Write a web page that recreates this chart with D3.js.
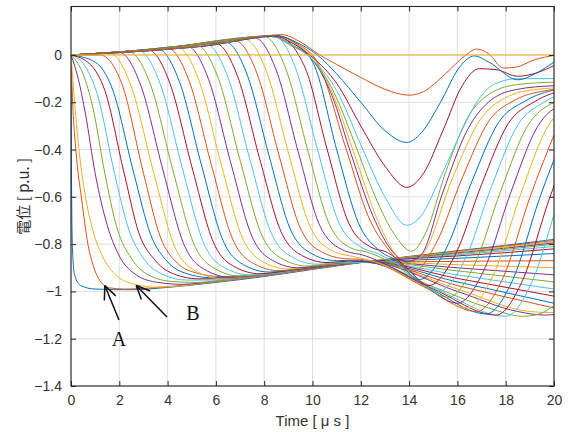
<!DOCTYPE html>
<html><head><meta charset="utf-8">
<script src="https://cdn.jsdelivr.net/npm/d3@7"></script>
<style>body{margin:0;background:#fff} svg{display:block}</style>
</head><body>
<svg id="c" width="572" height="432"></svg>
<script>
const xTicks = [0,2,4,6,8,10,12,14,16,18,20];
const yTicks = [-1.4,-1.2,-1,-0.8,-0.6,-0.4,-0.2,0];

const n00 = [[0,0],[0.02,-0.5],[0.06,-0.82],[0.15,-0.93],[0.4,-0.975],[1,-0.99],[2.5,-0.993],[4,-0.983],[6,-0.962],[8,-0.937],[10,-0.907],[12.3,-0.874],[14,-0.852],[16,-0.828],[18,-0.805],[20,-0.78]];
const n01 = [[0,0],[0.06,-0.18],[0.2,-0.4],[0.44,-0.61],[0.7,-0.8],[0.95,-0.9],[1.2,-0.955],[1.6,-0.985],[2.2,-0.99],[4,-0.98],[6,-0.96],[8,-0.935],[10,-0.905],[12.3,-0.873],[14,-0.853],[16,-0.83],[18,-0.808],[20,-0.785]];
const n02 = [[0,0],[0.15,-0.2],[0.35,-0.42],[0.6,-0.6],[0.9,-0.74],[1.3,-0.85],[1.8,-0.925],[2.7,-0.972],[3.5,-0.982],[4.5,-0.977],[6,-0.958],[8,-0.933],[10,-0.903],[12.3,-0.873],[14,-0.855],[16,-0.833],[18,-0.812],[20,-0.79]];
const n03 = [[0,0],[0.3,-0.1],[0.6,-0.25],[1.0,-0.5],[1.5,-0.72],[2.0,-0.85],[2.7,-0.93],[3.6,-0.962],[4.6,-0.97],[6,-0.956],[8,-0.932],[10,-0.902],[12.3,-0.874],[14,-0.857],[16,-0.837],[18,-0.817],[20,-0.795]];
const n04 = [[0,0],[0.5,-0.08],[0.9,-0.22],[1.4,-0.5],[1.9,-0.73],[2.5,-0.86],[3.2,-0.93],[4.2,-0.958],[5.2,-0.962],[6.5,-0.95],[8,-0.931],[10,-0.901],[12.3,-0.874],[14,-0.858],[16,-0.84],[18,-0.822],[20,-0.8]];
const n05 = [[0,0],[0.6,-0.05],[1.1,-0.17],[1.8,-0.5],[2.4,-0.74],[3.0,-0.86],[3.8,-0.928],[4.8,-0.952],[6,-0.952],[8,-0.93],[10,-0.9],[12.3,-0.874],[14,-0.86],[16,-0.845],[18,-0.828],[20,-0.81]];
const n06 = [[0,0],[0.8,-0.04],[1.4,-0.15],[2.2,-0.5],[2.8,-0.75],[3.5,-0.87],[4.3,-0.928],[5.3,-0.947],[6.5,-0.945],[8,-0.929],[10,-0.9],[12.3,-0.874],[14,-0.862],[16,-0.85],[18,-0.836],[20,-0.82]];
const n07 = [[0,0],[1.0,-0.03],[1.7,-0.14],[2.6,-0.5],[3.3,-0.76],[4.0,-0.875],[4.8,-0.925],[5.8,-0.942],[7,-0.938],[8.5,-0.922],[10,-0.899],[12.3,-0.874],[14,-0.868],[16,-0.86],[18,-0.85],[20,-0.84]];
const n08 = [[0,0],[1.2,0.0],[2.1,-0.12],[3.0,-0.5],[3.7,-0.77],[4.4,-0.88],[5.2,-0.922],[6.2,-0.937],[7.5,-0.932],[9,-0.913],[10.5,-0.893],[12.3,-0.874],[14.5,-0.874],[17,-0.872],[20,-0.87]];
const n09 = [[0,0],[0.8,0.004],[1.6,0.008],[2.5,-0.135],[3.4,-0.488],[4.3,-0.812],[5.2,-0.916],[6.2,-0.945],[8,-0.929],[10,-0.899],[12.3,-0.874],[16,-0.887],[20,-0.9]];
const n10 = [[0,0],[1,0.005],[2,0.011],[2.9,-0.132],[3.8,-0.484],[4.7,-0.807],[5.6,-0.911],[6.6,-0.94],[8,-0.928],[10,-0.898],[12.3,-0.874],[16,-0.9],[20,-0.93]];
const n11 = [[0,0],[1.2,0.006],[2.4,0.014],[3.3,-0.128],[4.2,-0.48],[5.1,-0.802],[6,-0.906],[7,-0.935],[8,-0.927],[10,-0.898],[12.3,-0.874],[16,-0.913],[20,-0.96]];
const n12 = [[0,0],[1.4,0.008],[2.8,0.018],[3.7,-0.124],[4.6,-0.475],[5.5,-0.797],[6.4,-0.902],[7.4,-0.93],[8.5,-0.922],[10,-0.897],[12.3,-0.874],[16,-0.93],[20,-0.99]];
const n13 = [[0,0],[1.6,0.009],[3.2,0.021],[4.1,-0.121],[5,-0.471],[5.9,-0.793],[6.8,-0.897],[7.8,-0.925],[9,-0.912],[10.5,-0.892],[12.3,-0.874],[16,-0.945],[20,-1.02]];
const n14 = [[0,0],[1.8,0.011],[3.6,0.025],[4.5,-0.116],[5.4,-0.465],[6.3,-0.786],[7.2,-0.89],[8.2,-0.918],[9.5,-0.903],[11,-0.885],[12.3,-0.875],[16,-0.96],[20,-1.05]];
const n15 = [[0,0],[2,0.012],[4,0.029],[4.9,-0.112],[5.8,-0.46],[6.7,-0.78],[7.6,-0.884],[8.6,-0.912],[10,-0.895],[11.3,-0.882],[12.3,-0.876],[16,-0.975],[20,-1.07]];
const n16 = [[0,0],[2.2,0.014],[4.4,0.033],[5.3,-0.108],[6.2,-0.455],[7.1,-0.774],[8,-0.877],[9,-0.905],[10.3,-0.89],[11.5,-0.88],[12.3,-0.877],[16,-0.99],[19,-1.085],[20,-1.09]];
const n17 = [[0,0],[2.4,0.015],[4.8,0.037],[5.7,-0.104],[6.6,-0.45],[7.5,-0.769],[8.4,-0.872],[9.4,-0.9],[10.6,-0.885],[12.3,-0.877],[16,-1.0],[18.5,-1.085],[19.6,-1.1],[20,-1.098]];
const n18 = [[0,0],[2.6,0.017],[5.2,0.041],[6.1,-0.099],[7,-0.445],[7.9,-0.762],[8.8,-0.865],[9.8,-0.893],[11,-0.88],[12.3,-0.877],[15,-0.98],[17.3,-1.07],[18.7,-1.105],[19.4,-1.095],[20,-1.06]];
const n19 = [[0,0],[2.8,0.019],[5.6,0.045],[6.5,-0.095],[7.4,-0.439],[8.3,-0.755],[9.2,-0.857],[10.2,-0.885],[11.2,-0.877],[12.3,-0.878],[15,-0.985],[18,-1.105],[19.1,-0.957],[20.2,-0.613],[21.3,-0.317]];
const n20 = [[0,0],[3,0.02],[6,0.048],[6.9,-0.091],[7.8,-0.434],[8.7,-0.748],[9.6,-0.85],[10.6,-0.878],[11.5,-0.872],[12.3,-0.876],[15,-0.99],[17.6,-1.1],[18.7,-0.953],[19.8,-0.61],[20.9,-0.316]];
const n21 = [[0,0],[3.2,0.022],[6.4,0.054],[7.3,-0.085],[8.2,-0.426],[9.1,-0.741],[10,-0.842],[11,-0.87],[11.8,-0.868],[12.4,-0.875],[14.8,-0.985],[17.2,-1.095],[18.3,-0.949],[19.4,-0.607],[20.5,-0.315]];
const n22 = [[0,0],[3.4,0.024],[6.8,0.06],[7.7,-0.078],[8.6,-0.419],[9.5,-0.733],[10.4,-0.834],[11.4,-0.862],[12,-0.864],[12.5,-0.874],[14.6,-0.98],[16.8,-1.085],[17.9,-0.94],[19,-0.603],[20.1,-0.313]];
const n23 = [[0,0],[3.6,0.026],[7.2,0.067],[8.1,-0.071],[9,-0.412],[9.9,-0.726],[10.8,-0.827],[11.8,-0.855],[12.5,-0.872],[14.5,-0.97],[16.4,-1.07],[17.5,-0.928],[18.6,-0.595],[19.7,-0.31],[20.8,-0.205]];
const n24 = [[0,0],[3.8,0.028],[7.6,0.073],[8.5,-0.065],[9.4,-0.407],[10.3,-0.721],[11.2,-0.822],[12.2,-0.85],[12.7,-0.87],[14.4,-0.96],[16,-1.05],[17.1,-0.91],[18.2,-0.585],[19.3,-0.306],[20.4,-0.204]];
const n25 = [[0,0],[4,0.03],[8,0.078],[8.9,-0.06],[9.8,-0.402],[10.7,-0.716],[11.6,-0.817],[12.3,-0.835],[12.8,-0.855],[14.2,-0.94],[15.6,-1.025],[16.7,-0.889],[17.8,-0.573],[18.9,-0.301],[20,-0.201]];
const n26 = [[0,0],[4.2,0.031],[8.4,0.082],[9.3,-0.056],[10.2,-0.397],[11.1,-0.711],[12,-0.812],[12.7,-0.84],[13.9,-0.91],[15.2,-1.0],[16.3,-0.868],[17.4,-0.56],[18.5,-0.296],[19.6,-0.199],[20.9,-0.146]];
const n27 = [[0,0],[4.25,0.031],[8.5,0.082],[9.7,-0.056],[10.6,-0.397],[11.5,-0.711],[12.4,-0.812],[13.1,-0.835],[13.9,-0.9],[14.8,-0.975],[15.9,-0.847],[17,-0.548],[18.1,-0.291],[19.2,-0.197],[20.5,-0.146]];
const n28 = [[0,0],[4.25,0.03],[8.5,0.08],[9.4,0.04],[10.1,-0.05],[11,-0.4],[11.9,-0.71],[12.8,-0.83],[13.5,-0.87],[14.4,-0.95],[15.5,-0.826],[16.6,-0.535],[17.7,-0.286],[18.8,-0.195],[20.1,-0.145]];
const n29 = [[0,0],[4.25,0.03],[8.5,0.08],[9.4,0.045],[10.2,-0.03],[11.4,-0.4],[12.3,-0.68],[13.2,-0.83],[14.2,-0.915],[15.1,-0.8],[16.2,-0.52],[17.3,-0.28],[18.4,-0.19],[19.7,-0.15],[20.5,-0.14]];
const n30 = [[0,0],[4.2,0.03],[8.4,0.08],[9.3,0.045],[10.1,-0.02],[10.9,-0.18],[11.8,-0.44],[12.7,-0.7],[13.5,-0.85],[14,-0.885],[14.6,-0.84],[15.8,-0.52],[16.9,-0.28],[18,-0.18],[19.3,-0.145],[20.5,-0.138]];
const n31 = [[0,0],[4.15,0.03],[8.3,0.078],[9.2,0.04],[10,-0.02],[10.8,-0.17],[11.6,-0.42],[12.5,-0.68],[13.3,-0.83],[13.9,-0.875],[14.5,-0.845],[15.4,-0.58],[16.4,-0.32],[17.4,-0.19],[18.5,-0.145],[20,-0.13]];
const n32 = [[0,0],[4.15,0.03],[8.3,0.078],[9.1,0.04],[9.9,-0.01],[10.8,-0.14],[11.7,-0.36],[12.6,-0.6],[13.4,-0.76],[14.1,-0.83],[14.7,-0.75],[15.5,-0.5],[16.4,-0.27],[17.4,-0.16],[18.5,-0.125],[20,-0.115]];
const n33 = [[0,0],[2,0.01],[4,0.024],[6,0.045],[7.2,0.066],[8.3,0.078],[9.1,0.045],[9.9,-0.01],[11,-0.15],[12,-0.38],[13,-0.6],[13.9,-0.72],[14.5,-0.68],[15.2,-0.54],[16,-0.36],[16.8,-0.2],[17.5,-0.125],[18.5,-0.1],[20,-0.1]];
const n34 = [[0,0],[2,0.01],[4,0.024],[6,0.044],[7.1,0.064],[8.4,0.08],[9.2,0.048],[10,-0.01],[11,-0.12],[12,-0.3],[13,-0.47],[13.9,-0.56],[14.6,-0.5],[15.4,-0.32],[16.2,-0.13],[16.9,-0.058],[17.6,-0.062],[18.5,-0.09],[19.3,-0.075],[20,-0.045]];
const n35 = [[0,0],[2,0.01],[4,0.024],[6,0.044],[7,0.062],[8.5,0.082],[9.4,0.05],[10.2,0],[11,-0.08],[12,-0.2],[13,-0.32],[13.9,-0.37],[14.5,-0.33],[15.3,-0.2],[16.1,-0.05],[16.7,-0.004],[17.3,-0.03],[18.5,-0.105],[19.3,-0.075],[20,-0.03]];
const n36 = [[0,0],[2,0.01],[4,0.025],[6,0.046],[7,0.065],[8,0.08],[8.7,0.086],[9.5,0.055],[10.3,0],[11,-0.04],[12,-0.095],[13,-0.145],[14,-0.17],[14.6,-0.155],[15.5,-0.08],[16.3,-0.005],[16.8,0.025],[17.3,0.005],[17.9,-0.055],[18.4,-0.052],[19.2,-0.02],[20,-0.002]];
const n37 = [[0,0],[20,0]];

const nodes = [n00,n01,n02,n03,n04,n05,n06,n07,n08,n09,n10,n11,n12,n13,n14,n15,n16,n17,n18,n19,
  n20,n21,n22,n23,n24,n25,n26,n27,n28,n29,n30,n31,n32,n33,n34,n35,n36,n37];
const palette = ['#0072BD','#D95319','#EDB120','#7E2F8E','#77AC30','#4DBEEE','#A2142F'];

const L=71, R=554, T=6.5, B=386;
const svg = d3.select('#c');
const x = d3.scaleLinear().domain([0,20]).range([L,R]);
const y = d3.scaleLinear().domain([-1.4,0.205]).range([B,T]);
const ink = '#262626';

// grid
const g = svg.append('g');
g.selectAll('.gx').data(xTicks).enter().append('line')
  .attr('x1',d=>x(d)).attr('x2',d=>x(d)).attr('y1',T).attr('y2',B)
  .attr('stroke','#dfdfdf').attr('stroke-width',1);
g.selectAll('.gy').data(yTicks).enter().append('line')
  .attr('y1',d=>y(d)).attr('y2',d=>y(d)).attr('x1',L).attr('x2',R)
  .attr('stroke','#dfdfdf').attr('stroke-width',1);

svg.append('clipPath').attr('id','clip').append('rect')
  .attr('x',L).attr('y',T).attr('width',R-L).attr('height',B-T);

const line = d3.line().x(d=>x(d[0])).y(d=>y(d[1])).curve(d3.curveMonotoneX);
svg.append('g').attr('clip-path','url(#clip)')
  .selectAll('path').data(nodes).enter().append('path')
  .attr('d',line).attr('fill','none')
  .attr('stroke',(d,i)=>palette[i%7]).attr('stroke-width',1);

// axes
const fmtY = v => v===0 ? '0' : '\u2212' + (+Math.abs(v).toFixed(1));
const ax = svg.append('g').attr('transform',`translate(0,${B})`)
  .call(d3.axisBottom(x).tickValues(xTicks).tickSize(-5).tickPadding(9).tickFormat(d=>d));
const axT = svg.append('g').attr('transform',`translate(0,${T})`)
  .call(d3.axisTop(x).tickValues(xTicks).tickSize(-5).tickFormat(''));
const ay = svg.append('g').attr('transform',`translate(${L},0)`)
  .call(d3.axisLeft(y).tickValues(yTicks).tickSize(-5).tickPadding(9).tickFormat(fmtY));
const ayR = svg.append('g').attr('transform',`translate(${R},0)`)
  .call(d3.axisRight(y).tickValues(yTicks).tickSize(-5).tickFormat(''));
[ax,axT,ay,ayR].forEach(a=>{
  a.select('.domain').remove();
  a.selectAll('.tick line').attr('stroke',ink);
  a.selectAll('text').attr('fill','#333').style('font-family','"Liberation Sans",Arial,sans-serif').style('font-size','14px');
});
svg.append('rect').attr('x',L).attr('y',T).attr('width',R-L).attr('height',B-T)
  .attr('fill','none').attr('stroke',ink).attr('stroke-width',1.1);

// labels
svg.append('text').attr('x',(L+R)/2).attr('y',426).attr('text-anchor','middle')
  .attr('fill','#333').style('font-family','"Liberation Sans",Arial,"Noto Sans CJK JP",sans-serif').style('font-size','15px')
  .text('Time [ \u03bc s ]');
svg.append('text').attr('transform',`translate(29,${(T+B)/2}) rotate(-90)`).attr('text-anchor','middle')
  .attr('fill','#333').style('font-family','"Noto Sans CJK JP","Liberation Sans",sans-serif').style('font-size','15px')
  .text('電位 [ p.u. ]');

// annotations A, B
const ann = svg.append('g').attr('stroke','#111').attr('stroke-width',1.5).attr('fill','none');
function arrow(tx,ty,sx,sy){
  ann.append('line').attr('x1',sx).attr('y1',sy).attr('x2',tx).attr('y2',ty);
  const a = Math.atan2(sy-ty, sx-tx), len = 15;
  [0.42,-0.42].forEach(o=>{
    ann.append('line').attr('x1',tx).attr('y1',ty)
      .attr('x2',tx+len*Math.cos(a+o)).attr('y2',ty+len*Math.sin(a+o));
  });
}
arrow(x(1.4), y(-0.975), 119, 320);
arrow(x(2.7), y(-0.975), 167, 317);
svg.append('text').attr('x',119).attr('y',346).attr('text-anchor','middle')
  .style('font-family','"Liberation Serif","Times New Roman",serif').style('font-size','20px').attr('fill','#111').text('A');
svg.append('text').attr('x',193).attr('y',320).attr('text-anchor','middle')
  .style('font-family','"Liberation Serif","Times New Roman",serif').style('font-size','20px').attr('fill','#111').text('B');
</script>
</body></html>
